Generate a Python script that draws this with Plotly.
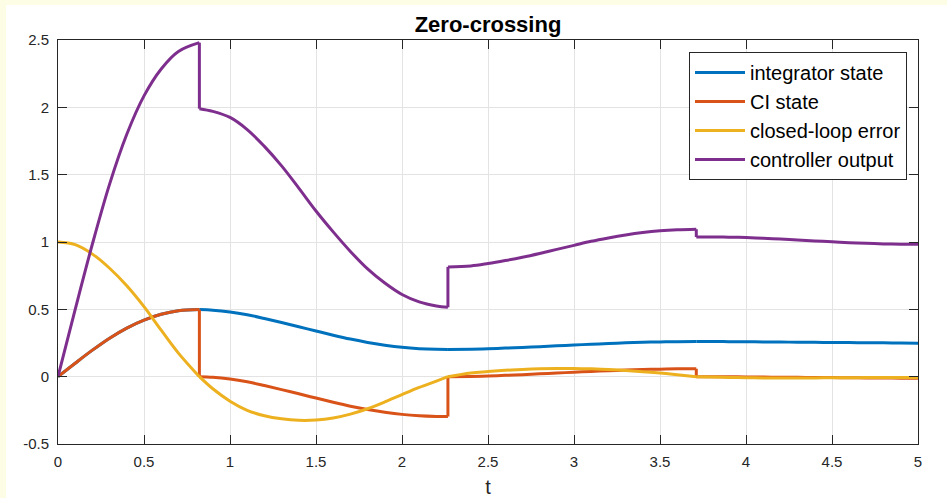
import plotly.graph_objects as go

# Simulation time; each reset instant appears twice (value just before / just after)
t = [0.0, 0.1, 0.2, 0.3, 0.4, 0.5, 0.6, 0.7, 0.822,
     0.822, 0.9, 1.0, 1.1, 1.2, 1.3, 1.4, 1.5, 1.6, 1.7, 1.8, 1.9, 2.0, 2.1, 2.2, 2.267,
     2.267, 2.4, 2.5, 2.6, 2.7, 2.8, 2.9, 3.0, 3.1, 3.2, 3.3, 3.4, 3.5, 3.6, 3.711,
     3.711, 3.8, 3.9, 4.0, 4.1, 4.2, 4.3, 4.4, 4.5, 4.6, 4.7, 4.8, 4.9, 5.0]

integrator_state = [0.0, 0.100, 0.197, 0.286, 0.361, 0.420, 0.463, 0.489, 0.498,
                    0.498, 0.494, 0.481, 0.460, 0.432, 0.402, 0.371, 0.339, 0.308, 0.279, 0.254, 0.234, 0.218, 0.208, 0.203, 0.202,
                    0.202, 0.204, 0.207, 0.212, 0.217, 0.223, 0.229, 0.235, 0.241, 0.246, 0.251, 0.255, 0.258, 0.260, 0.261,
                    0.261, 0.261, 0.260, 0.259, 0.258, 0.257, 0.256, 0.255, 0.254, 0.253, 0.252, 0.251, 0.250, 0.249]

ci_state = [0.0, 0.100, 0.197, 0.286, 0.361, 0.420, 0.463, 0.489, 0.498,
            0.0, -0.004, -0.017, -0.038, -0.066, -0.096, -0.127, -0.159, -0.190, -0.219, -0.244, -0.264, -0.280, -0.290, -0.295, -0.296,
            0.0, 0.002, 0.005, 0.010, 0.015, 0.021, 0.027, 0.033, 0.039, 0.044, 0.049, 0.053, 0.056, 0.058, 0.059,
            0.0, -0.000, -0.001, -0.002, -0.003, -0.004, -0.005, -0.006, -0.007, -0.008, -0.009, -0.010, -0.011, -0.012]

closed_loop_error = [1.0, 0.98, 0.91, 0.805, 0.675, 0.52, 0.345, 0.175, 0.0,
                     0.0, -0.09, -0.182, -0.25, -0.29, -0.313, -0.324, -0.322, -0.307, -0.278, -0.238, -0.188, -0.133, -0.08, -0.033, 0.0,
                     0.0, 0.028, 0.038, 0.047, 0.054, 0.059, 0.061, 0.061, 0.058, 0.053, 0.046, 0.037, 0.027, 0.015, 0.0,
                     0.0, -0.003, -0.006, -0.008, -0.009, -0.009, -0.009, -0.009, -0.008, -0.008, -0.007, -0.007, -0.006, -0.006]

controller_output = [0.0, 0.50, 0.985, 1.43, 1.80, 2.085, 2.285, 2.415, 2.48,
                     1.99, 1.97, 1.925, 1.835, 1.71, 1.565, 1.40, 1.23, 1.075, 0.93, 0.80, 0.695, 0.61, 0.555, 0.525, 0.515,
                     0.815, 0.822, 0.84, 0.862, 0.887, 0.915, 0.945, 0.975, 1.005, 1.03, 1.052, 1.07, 1.083, 1.091, 1.095,
                     1.037, 1.037, 1.036, 1.033, 1.028, 1.022, 1.015, 1.008, 1.001, 0.995, 0.99, 0.986, 0.984, 0.983]

series_names = ["integrator state", "CI state", "closed-loop error", "controller output"]
series_colors = ["#0072BD", "#D95319", "#EDB120", "#7E2F8E"]
x_ticks = [0, 0.5, 1, 1.5, 2, 2.5, 3, 3.5, 4, 4.5, 5]
x_tick_text = ["0", "0.5", "1", "1.5", "2", "2.5", "3", "3.5", "4", "4.5", "5"]
y_ticks = [-0.5, 0, 0.5, 1, 1.5, 2, 2.5]
y_tick_text = ["-0.5", "0", "0.5", "1", "1.5", "2", "2.5"]


def with_steps(ts, ys):
    """Split a trajectory at repeated time stamps: smooth runs joined by vertical steps."""
    xs, vs = [ts[0]], [ys[0]]
    for i in range(1, len(ts)):
        if ts[i] == ts[i - 1]:
            if ys[i] != ys[i - 1]:
                xs += [None, ts[i - 1], ts[i], None]
                vs += [None, ys[i - 1], ys[i], None]
            else:
                xs += [None]
                vs += [None]
        xs.append(ts[i])
        vs.append(ys[i])
    return xs, vs


FONT = "Liberation Sans, Arial, Helvetica, sans-serif"
INK = "#262626"

fig = go.Figure()
for name, color, values in zip(series_names, series_colors,
                               [integrator_state, ci_state, closed_loop_error, controller_output]):
    xs, vs = with_steps(t, values)
    fig.add_trace(go.Scatter(
        x=xs, y=vs, mode="lines", name=name, connectgaps=False,
        line=dict(color=color, width=3, shape="spline", smoothing=1.0),
    ))

# white figure panel on the pale frame
fig.add_shape(type="rect", xref="paper", yref="paper",
              x0=-0.0605, x1=1.05, y0=-0.2, y1=1.0866,
              fillcolor="white", line=dict(width=0), layer="below")

axis_common = dict(
    showline=True, linecolor=INK, linewidth=1, mirror="ticks",
    ticks="inside", ticklen=9, tickwidth=1, tickcolor=INK,
    showgrid=True, gridcolor="#e3e3e3", gridwidth=1, zeroline=False,
    tickfont=dict(family=FONT, size=15, color=INK), automargin=False,
)

fig.update_layout(
    width=947, height=498,
    margin=dict(l=58, r=29, t=40, b=54),
    paper_bgcolor="#fdfde6", plot_bgcolor="white",
    title=dict(text="<b>Zero-crossing</b>", x=(488 / 947), xanchor="center",
               y=1 - 24 / 498, yanchor="middle",
               font=dict(family=FONT, size=22, color="black")),
    xaxis=dict(range=[0, 5], tickvals=x_ticks, ticktext=x_tick_text,
               ticklabelstandoff=4,
               title=dict(text="t", font=dict(family=FONT, size=20, color=INK), standoff=12),
               **axis_common),
    yaxis=dict(range=[-0.5, 2.5], tickvals=y_ticks, ticktext=y_tick_text,
               ticklabelstandoff=5, **axis_common),
    legend=dict(x=(907 - 58) / 860, xanchor="right", y=(444 - 52) / 404, yanchor="top",
                bgcolor="white", bordercolor=INK, borderwidth=1,
                font=dict(family=FONT, size=20, color="black"),
                itemwidth=50, tracegroupgap=0),
    showlegend=True,
)

fig.write_html("out.html")
